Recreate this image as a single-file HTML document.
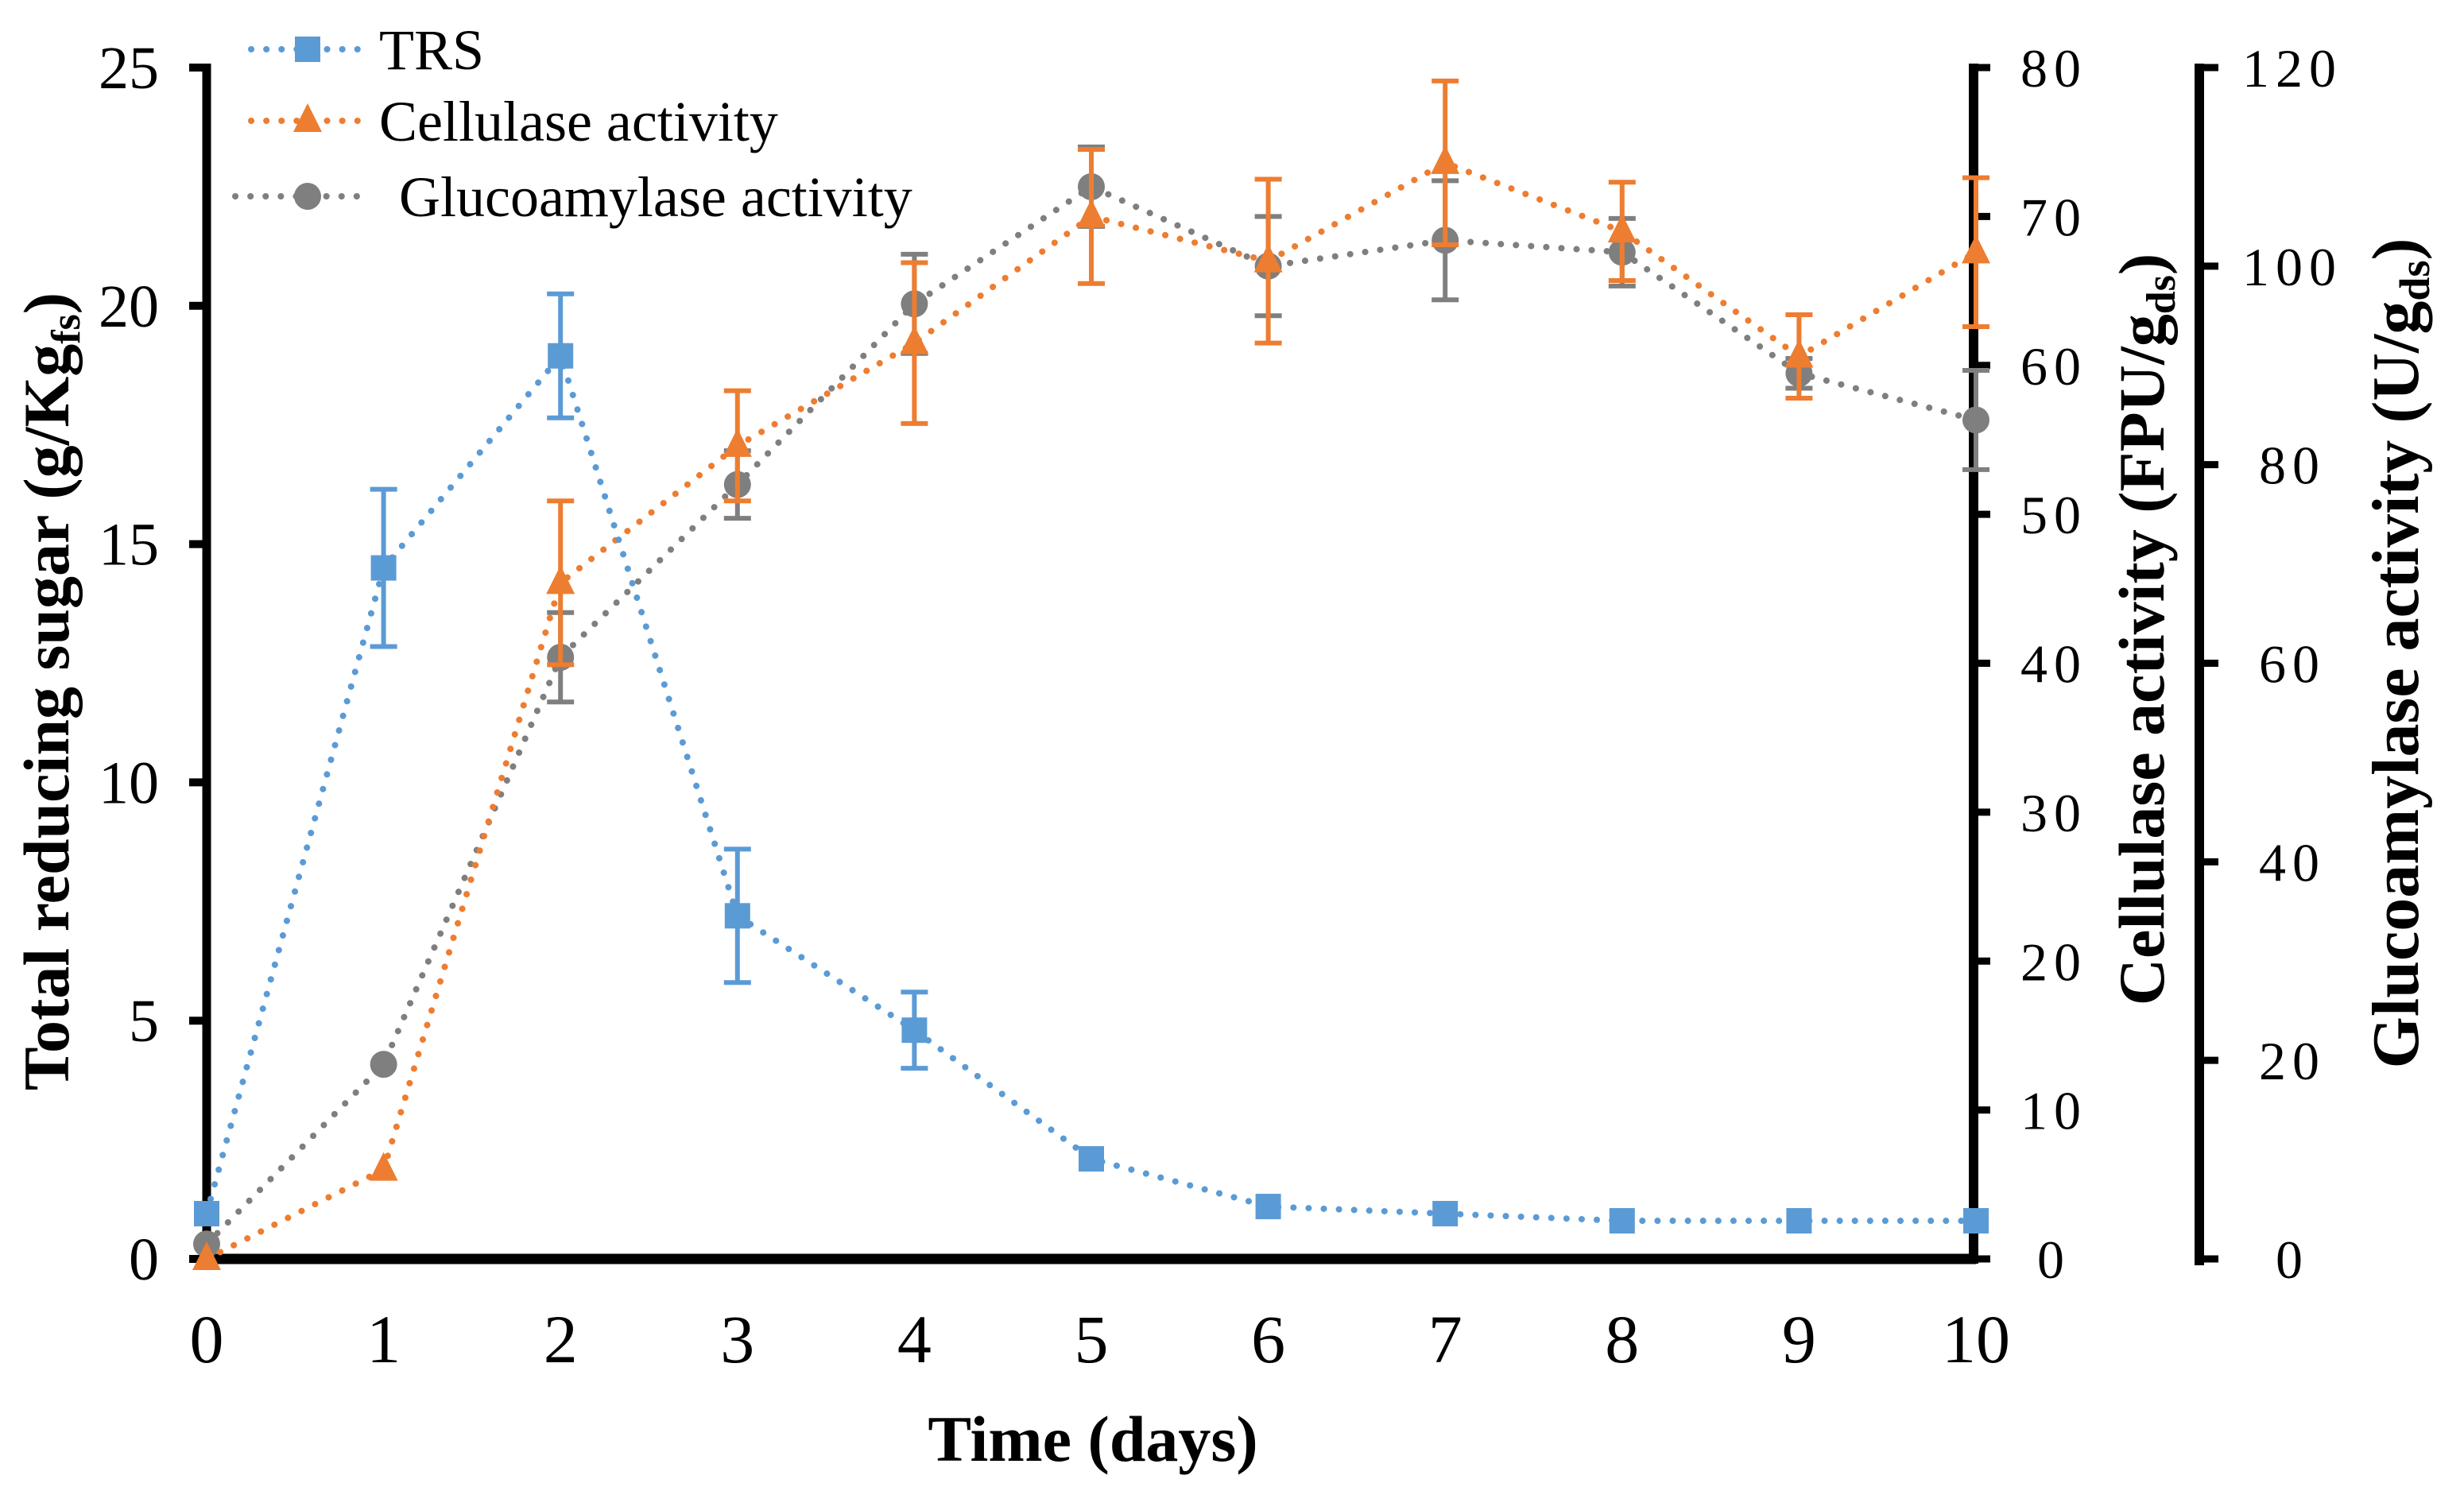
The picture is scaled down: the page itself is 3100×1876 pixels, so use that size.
<!DOCTYPE html>
<html><head><meta charset="utf-8"><style>
html,body{margin:0;padding:0;background:#fff;}
svg{display:block;font-family:"Liberation Serif",serif;}
</style></head><body>
<svg id="chart" width="3100" height="1876" viewBox="0 0 3100 1876" xmlns="http://www.w3.org/2000/svg"></svg>
<script>
const days = [0,1,2,3,4,5,6,7,8,9,10];
const trsValues = [0.95,14.5,18.95,7.2,4.8,2.1,1.1,0.95,0.8,0.8,0.8];
const trsErrors = [0,1.65,1.3,1.4,0.8,0.25,0.1,0.05,0.05,0.05,0.05];
const cellValues = [0,6.0,45.4,54.6,61.5,70,67,73.6,69,60.6,67.6];
const cellErrors = [0,0.6,5.5,3.7,5.4,4.5,5.5,5.5,3.3,2.8,5];
const glucoValues = [1.5,19.6,60.6,78,96.2,108,100,102.6,101.4,89.2,84.5];
const glucoErrors = [0,0,4.5,3.4,5,4,5,6,3.4,1.5,5];
const xTicks = [0,1,2,3,4,5,6,7,8,9,10];
const leftTicks = [0,5,10,15,20,25];
const right1Ticks = [0,10,20,30,40,50,60,70,80];
const right2Ticks = [0,20,40,60,80,100,120];

const NS="http://www.w3.org/2000/svg";
const svg=document.getElementById('chart');
const X0=260,X1=2486,YB=1584,YT=85;
const xs=d=>X0+(X1-X0)*d/10;
const yL=v=>YB-(YB-YT)*v/25;
const yR1=v=>YB-(YB-YT)*v/80;
const yR2=v=>YB-(YB-YT)*v/120;
function mk(tag,attrs,parent){const e=document.createElementNS(NS,tag);for(const k in attrs)e.setAttribute(k,attrs[k]);(parent||svg).appendChild(e);return e;}

const axes=mk('g',{});


const la=mk('line',{x1:X0,y1:YT-5,x2:X0,y2:YB+6,stroke:'#000','stroke-width':11},axes);


const ba=mk('line',{x1:X0-6,y1:YB,x2:X1,y2:YB,stroke:'#000','stroke-width':13},axes);


const ra=mk('line',{x1:2483,y1:YT-5,x2:2483,y2:YB+6,stroke:'#000','stroke-width':12},axes);


const ra2=mk('line',{x1:2767,y1:YT-5,x2:2767,y2:YB+8,stroke:'#000','stroke-width':12},axes);



leftTicks.forEach(v=>{
  mk('line',{x1:238,y1:yL(v),x2:X0,y2:yL(v),stroke:'#000','stroke-width':10},axes);
  const t=mk('text',{x:200,y:yL(v)+26,'text-anchor':'end','font-size':76},axes);
  t.textContent=v;
  
  
});
right1Ticks.forEach(v=>{
  mk('line',{x1:2483,y1:yR1(v),x2:2504,y2:yR1(v),stroke:'#000','stroke-width':9},axes);
  const t=mk('text',{x:2584,y:yR1(v)+24,'text-anchor':'middle','font-size':68,'letter-spacing':8},axes);
  t.textContent=v;
  
  
});
right2Ticks.forEach(v=>{
  mk('line',{x1:2767,y1:yR2(v),x2:2791,y2:yR2(v),stroke:'#000','stroke-width':9},axes);
  const t=mk('text',{x:2884,y:yR2(v)+24,'text-anchor':'middle','font-size':68,'letter-spacing':8},axes);
  t.textContent=v;
  
  
});
xTicks.forEach(v=>{
  const t=mk('text',{x:xs(v),y:1714,'text-anchor':'middle','font-size':86},axes);
  t.textContent=v;
  
  
});

function series(vals,errs,yf,color,marker,name){
  const g=mk('g',{});
  
  
  const pts=vals.map((v,i)=>xs(days[i])+','+yf(v)).join(' ');
  const pl=mk('polyline',{points:pts,fill:'none',stroke:color,'stroke-width':8,'stroke-dasharray':'0.1 19','stroke-linecap':'round'},g);
  
  
  vals.forEach((v,i)=>{
    const x=xs(days[i]);
    if(errs[i]>0.3*(yf===yL?1:3)){
      const y1=yf(v+errs[i]),y2=yf(v-errs[i]);
      const eb=mk('path',{d:`M${x},${y1}V${y2}M${x-17},${y1}H${x+17}M${x-17},${y2}H${x+17}`,stroke:color,'stroke-width':6,fill:'none'},g);
      
      
    }
    const y=yf(v);let m;
    if(marker==='square')m=mk('rect',{x:x-16,y:y-16,width:32,height:32,fill:color},g);
    else if(marker==='tri')m=mk('polygon',{points:`${x},${y-22} ${x+18},${y+14} ${x-18},${y+14}`,fill:color},g);
    else m=mk('circle',{cx:x,cy:y,r:17,fill:color},g);
    
    
  });
}
series(glucoValues,glucoErrors,yR2,'#7f7f7f','circle','glucoamylase');
series(cellValues,cellErrors,yR1,'#ed7d31','tri','cellulase');
series(trsValues,trsErrors,yL,'#5b9bd5','square','trs');

function legend(y,color,marker,label,x0,x1,tx,name){
  const g=mk('g',{});
  
  
  mk('line',{x1:x0,y1:y,x2:x1,y2:y,stroke:color,'stroke-width':8,'stroke-dasharray':'0.1 19','stroke-linecap':'round'},g);
  const x=387;
  if(marker==='square')mk('rect',{x:x-16,y:y-16,width:32,height:32,fill:color},g);
  else if(marker==='tri')mk('polygon',{points:`${x},${y-22} ${x+18},${y+14} ${x-18},${y+14}`,fill:color},g);
  else mk('circle',{cx:x,cy:y,r:17,fill:color},g);
  const t=mk('text',{x:tx,y:y+25,'font-size':72},g);
  t.textContent=label;
}
legend(62,'#5b9bd5','square','TRS',316,452,477,'trs');
legend(152,'#ed7d31','tri','Cellulase activity',316,452,477,'cellulase');
legend(247,'#7f7f7f','circle','Glucoamylase activity',296,456,502,'glucoamylase');
</script>
<svg style="position:absolute;left:0;top:0" width="3100" height="1876">
<text x="1375" y="1838" text-anchor="middle" font-family="Liberation Serif" font-weight="bold" font-size="82">Time (days)</text>
<text transform="translate(86,870) rotate(-90)" text-anchor="middle" font-family="Liberation Serif" font-weight="bold" font-size="82">Total reducing sugar (g/Kg<tspan font-size="52" dy="14">fs</tspan><tspan dy="-14">)</tspan></text>
<text transform="translate(2722,792) rotate(-90)" text-anchor="middle" font-family="Liberation Serif" font-weight="bold" font-size="82">Cellulase activity (FPU/g<tspan font-size="52" dy="14">ds</tspan><tspan dy="-14">)</tspan></text>
<text transform="translate(3042,822) rotate(-90)" text-anchor="middle" font-family="Liberation Serif" font-weight="bold" font-size="84">Glucoamylase activity (U/g<tspan font-size="54" dy="14">ds</tspan><tspan dy="-14">)</tspan></text>
</svg>
</body></html>
